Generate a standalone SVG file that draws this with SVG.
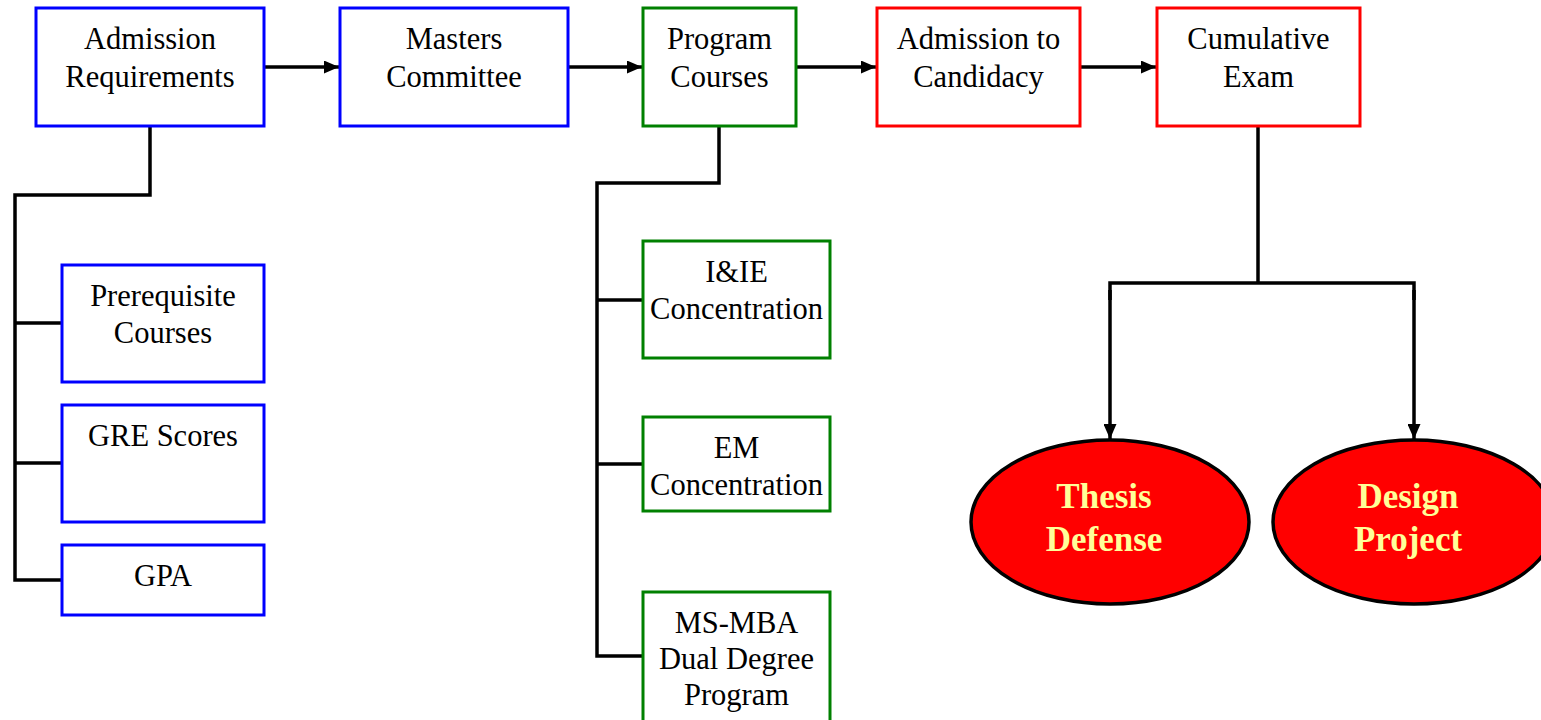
<svg xmlns="http://www.w3.org/2000/svg" width="1541" height="720" viewBox="0 0 1541 720">
<defs>
<style>
.box{fill:#fff;stroke-width:3}
.b{stroke:#0000FF}.g{stroke:#008000}.r{stroke:#FF0000}
.t{font-family:"Liberation Serif","Times New Roman",serif;font-size:30.5px;fill:#000;text-anchor:middle}
.et{font-family:"Liberation Serif","Times New Roman",serif;font-size:35px;font-weight:bold;fill:#FFFF99;text-anchor:middle}
.c{fill:none;stroke:#000;stroke-width:3.5}
.ell{fill:#FF0000;stroke:#000;stroke-width:3.5}
</style>
<marker id="ah" markerWidth="15" markerHeight="13" refX="15" refY="6.5" orient="auto" markerUnits="userSpaceOnUse">
<path d="M0,0 L15,6.5 L0,13 Z" fill="#000"/>
</marker>
</defs>
<rect width="1541" height="720" fill="#fff"/>
<g id="connectors">
<line class="c" x1="265" y1="67" x2="339" y2="67" marker-end="url(#ah)"/>
<line class="c" x1="569" y1="67" x2="642" y2="67" marker-end="url(#ah)"/>
<line class="c" x1="797" y1="67" x2="876" y2="67" marker-end="url(#ah)"/>
<line class="c" x1="1081" y1="67" x2="1156" y2="67" marker-end="url(#ah)"/>
<polyline class="c" points="150,127 150,195 15,195 15,580 62,580"/>
<line class="c" x1="15" y1="323" x2="62" y2="323"/>
<line class="c" x1="15" y1="463" x2="62" y2="463"/>
<polyline class="c" points="719,127 719,183 597,183 597,656 643,656"/>
<line class="c" x1="597" y1="300" x2="643" y2="300"/>
<line class="c" x1="597" y1="464" x2="643" y2="464"/>
<line class="c" x1="1258" y1="127" x2="1258" y2="283"/>
<polyline class="c" points="1110,300 1110,283 1414,283 1414,300"/>
<line class="c" x1="1110" y1="290" x2="1110" y2="439" marker-end="url(#ah)"/>
<line class="c" x1="1414" y1="290" x2="1414" y2="439" marker-end="url(#ah)"/>
</g>
<g id="n-admission">
<rect class="box b" x="36" y="8" width="228" height="118"/>
<text class="t" x="150" y="49">Admission</text>
<text class="t" x="150" y="87">Requirements</text>
</g>
<g id="n-masters">
<rect class="box b" x="340" y="8" width="228" height="118"/>
<text class="t" x="454" y="49">Masters</text>
<text class="t" x="454" y="87">Committee</text>
</g>
<g id="n-program">
<rect class="box g" x="643" y="8" width="153" height="118"/>
<text class="t" x="719.5" y="49">Program</text>
<text class="t" x="719.5" y="87">Courses</text>
</g>
<g id="n-candidacy">
<rect class="box r" x="877" y="8" width="203" height="118"/>
<text class="t" x="978.5" y="49">Admission to</text>
<text class="t" x="978.5" y="87">Candidacy</text>
</g>
<g id="n-cumulative">
<rect class="box r" x="1157" y="8" width="203" height="118"/>
<text class="t" x="1258.5" y="49">Cumulative</text>
<text class="t" x="1258.5" y="87">Exam</text>
</g>
<g id="n-prereq">
<rect class="box b" x="62" y="265" width="202" height="117"/>
<text class="t" x="163" y="306">Prerequisite</text>
<text class="t" x="163" y="343">Courses</text>
</g>
<g id="n-gre">
<rect class="box b" x="62" y="405" width="202" height="117"/>
<text class="t" x="163" y="446">GRE Scores</text>
</g>
<g id="n-gpa">
<rect class="box b" x="62" y="545" width="202" height="70"/>
<text class="t" x="163" y="586">GPA</text>
</g>
<g id="n-iie">
<rect class="box g" x="643" y="241" width="187" height="117"/>
<text class="t" x="736.5" y="282">I&amp;IE</text>
<text class="t" x="736.5" y="319">Concentration</text>
</g>
<g id="n-em">
<rect class="box g" x="643" y="417" width="187" height="94"/>
<text class="t" x="736.5" y="458">EM</text>
<text class="t" x="736.5" y="495">Concentration</text>
</g>
<g id="n-msmba">
<rect class="box g" x="643" y="592" width="187" height="140"/>
<text class="t" x="736.5" y="633">MS-MBA</text>
<text class="t" x="736.5" y="669">Dual Degree</text>
<text class="t" x="736.5" y="705">Program</text>
</g>
<g id="n-thesis">
<ellipse class="ell" cx="1110" cy="522" rx="139" ry="82"/>
<text class="et" x="1104" y="508">Thesis</text>
<text class="et" x="1104" y="551">Defense</text>
</g>
<g id="n-design">
<ellipse class="ell" cx="1414" cy="522" rx="141" ry="82"/>
<text class="et" x="1408" y="508">Design</text>
<text class="et" x="1408" y="551">Project</text>
</g>
</svg>
